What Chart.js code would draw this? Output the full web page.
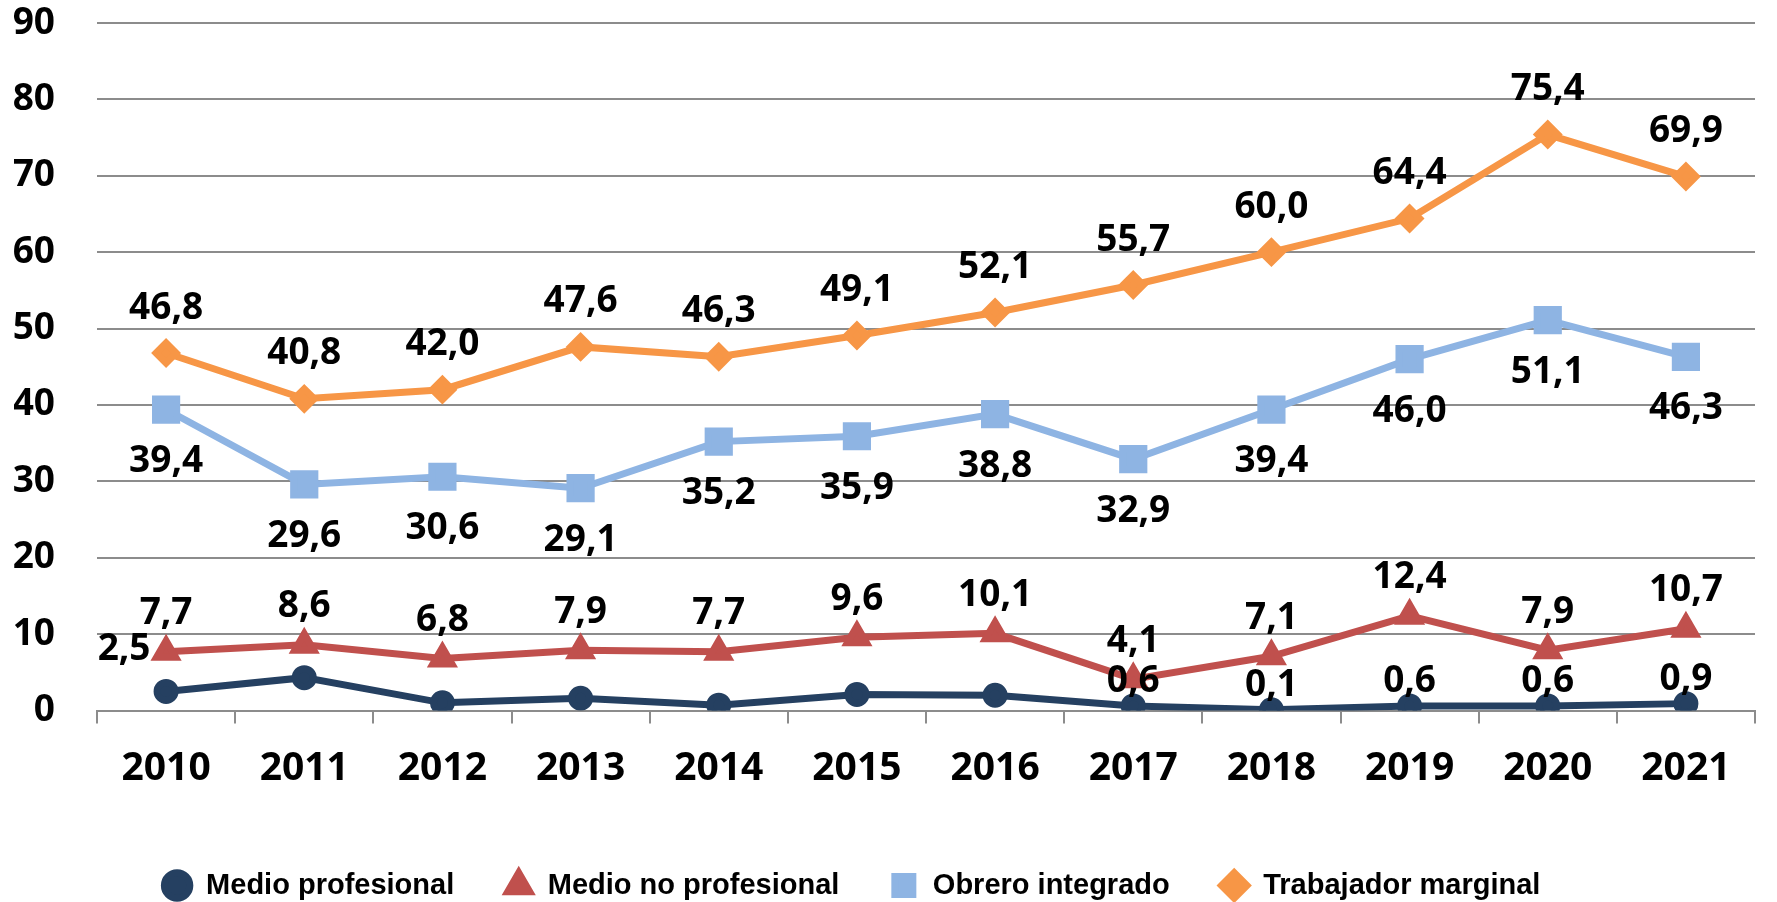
<!DOCTYPE html>
<html>
<head>
<meta charset="utf-8">
<script src="https://cdn.jsdelivr.net/npm/chart.js@4.4.1/dist/chart.umd.min.js"></script>
<style>
    html, body { margin: 0; padding: 0; background: #fff; }
    #wrap { width: 1777px; height: 902px; position: relative; }
</style>
</head>
<body>
<div id="wrap"><canvas id="lineChart"></canvas></div>
<script>
// Datos del gráfico
var years = ['2010', '2011', '2012', '2013', '2014', '2015', '2016', '2017', '2018', '2019', '2020', '2021'];
var medioProfesional = [2.5, 4.3, 1.0, 1.6, 0.7, 2.1, 2.0, 0.6, 0.1, 0.6, 0.6, 0.9];
var medioNoProfesional = [7.7, 8.6, 6.8, 7.9, 7.7, 9.6, 10.1, 4.1, 7.1, 12.4, 7.9, 10.7];
var obreroIntegrado = [39.4, 29.6, 30.6, 29.1, 35.2, 35.9, 38.8, 32.9, 39.4, 46.0, 51.1, 46.3];
var trabajadorMarginal = [46.8, 40.8, 42.0, 47.6, 46.3, 49.1, 52.1, 55.7, 60.0, 64.4, 75.4, 69.9];
// etiquetas visibles de "Medio profesional" (en el original faltan 2011-2016)
var medioProfesionalLabels = [true, false, false, false, false, false, false, true, true, true, true, true];
var yTicks = [0, 10, 20, 30, 40, 50, 60, 70, 80, 90];

var gridColor = '#8c8c8c';

function formatValue(v) {
    return v.toFixed(1).replace('.', ',');
}

// Plugin propio para las etiquetas de valores
var valueLabels = {
    id: 'valueLabels',
    afterDatasetsDraw: function (chart) {
        var ctx = chart.ctx;
        ctx.save();
        ctx.font = 'bold 37px "Open Sans"';
        ctx.fillStyle = '#000';
        ctx.textAlign = 'center';
        ctx.textBaseline = 'middle';
        chart.data.datasets.forEach(function (ds, i) {
            var meta = chart.getDatasetMeta(i);
            meta.data.forEach(function (pt, j) {
                if (ds.showLabel && !ds.showLabel[j]) return;
                var dx = 0, dy = ds.labelDy;
                if (ds.firstLabelLeft && j === 0) {
                    dx = -42;
                    dy = -42;
                }
                ctx.fillText(formatValue(ds.data[j]), pt.x + dx, pt.y + dy);
            });
        });
        ctx.restore();
    }
};

// Colocar la leyenda como en el original (un poco a la izquierda, abajo)
var legendPlace = {
    id: 'legendPlace',
    afterLayout: function (chart) {
        var lg = chart.legend;
        if (!lg) return;
        lg.left -= 40;
        lg.right -= 40;
        lg.top = 821;
        lg.height = 81;
        lg.bottom = 902;
    }
};

document.addEventListener("DOMContentLoaded", function () {
    var ctx = document.getElementById('lineChart').getContext('2d');
    var lineChart = new Chart(ctx, {
        type: 'line',
        data: {
            labels: years,
            datasets: [{
                    label: 'Medio profesional',
                    data: medioProfesional,
                    borderColor: '#254061',
                    backgroundColor: '#254061',
                    pointBackgroundColor: '#254061',
                    pointStyle: 'circle',
                    pointRadius: 9,
                    borderWidth: 7,
                    showLabel: medioProfesionalLabels,
                    labelDy: -24,
                    firstLabelLeft: true
                }, {
                    label: 'Medio no profesional',
                    data: medioNoProfesional,
                    borderColor: '#C0504D',
                    backgroundColor: '#C0504D',
                    pointBackgroundColor: '#C0504D',
                    pointStyle: 'triangle',
                    pointRadius: 11,
                    borderWidth: 7,
                    labelDy: -38
                }, {
                    label: 'Obrero integrado',
                    data: obreroIntegrado,
                    borderColor: '#8EB4E3',
                    backgroundColor: '#8EB4E3',
                    pointBackgroundColor: '#8EB4E3',
                    pointStyle: 'rect',
                    pointRadius: 15,
                    borderWidth: 7,
                    labelDy: 52
                }, {
                    label: 'Trabajador marginal',
                    data: trabajadorMarginal,
                    borderColor: '#F79646',
                    backgroundColor: '#F79646',
                    pointBackgroundColor: '#F79646',
                    pointStyle: 'rectRot',
                    pointRadius: 10,
                    borderWidth: 7,
                    labelDy: -45
                }]
        },
        options: {
            responsive: true,
            maintainAspectRatio: false,
            animation: false,
            layout: {
                padding: { left: 14, right: 8, top: 23, bottom: 0 }
            },
            elements: {
                line: { tension: 0 },
                point: { borderWidth: 0, hoverRadius: 10 }
            },
            scales: {
                y: {
                    min: 0,
                    max: 90,
                    afterBuildTicks: function (axis) {
                        axis.ticks = yTicks.map(function (v) { return { value: v }; });
                    },
                    afterFit: function (axis) {
                        axis.width = 83;
                        axis.paddingTop = 0;
                        axis.paddingBottom = 0;
                    },
                    border: { display: false },
                    grid: {
                        color: gridColor,
                        lineWidth: 2,
                        drawTicks: false
                    },
                    ticks: {
                        color: '#000',
                        padding: 42,
                        font: { family: '"Open Sans"', size: 37, weight: 'bold' }
                    }
                },
                x: {
                    offset: true,
                    afterFit: function (axis) {
                        axis.height = 131.5;
                        axis.paddingLeft = 0;
                        axis.paddingRight = 0;
                    },
                    border: { color: gridColor, width: 2 },
                    grid: {
                        offset: true,
                        drawOnChartArea: false,
                        color: gridColor,
                        lineWidth: 2,
                        tickLength: 13
                    },
                    ticks: {
                        color: '#000',
                        padding: 22,
                        font: { family: '"Open Sans"', size: 39, weight: 'bold' }
                    }
                }
            },
            plugins: {
                tooltip: { enabled: false },
                legend: {
                    position: 'bottom',
                    maxHeight: 60,
                    labels: {
                        color: '#000',
                        usePointStyle: true,
                        boxHeight: 18,
                        padding: 50,
                        font: { family: '"Liberation Sans"', size: 29, weight: 'bold' }
                    }
                }
            }
        },
        plugins: [valueLabels, legendPlace]
    });
});
</script>
</body>
</html>
